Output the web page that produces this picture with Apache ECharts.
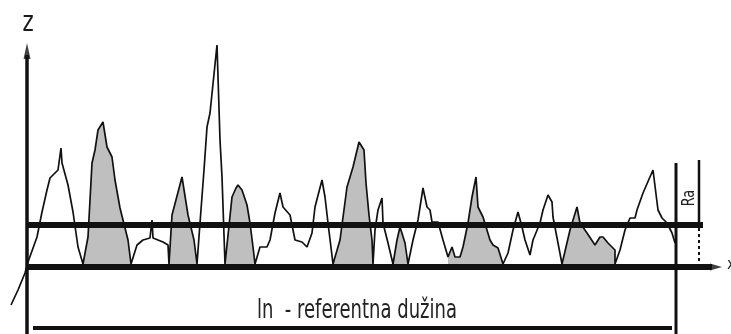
<!DOCTYPE html>
<html>
<head>
<meta charset="utf-8">
<script src="https://cdn.jsdelivr.net/npm/echarts@6/dist/echarts.min.js"></script>
<style>
  html, body { margin: 0; padding: 0; background: #fff; }
  #chart { width: 731px; height: 334px; }
</style>
</head>
<body>
<div id="chart"></div>
<script>
// profile: x position and height z above the base line
const profileX = [11, 18, 25, 28, 37, 42, 47, 50, 58, 61, 62, 68, 73, 78, 83,
  88, 92, 95, 98, 103, 107, 112, 115, 120, 128, 131,
  137, 143, 150, 152, 153, 163, 168, 169,
  172, 182, 188, 194, 197, 200, 204, 207, 210, 217, 220, 222, 225,
  232, 236, 238, 242, 247, 250, 253, 255,
  260, 267, 270, 275, 280, 283, 290, 295, 302, 307, 312, 315, 322, 325, 328, 333,
  340, 347, 353, 359, 364, 366, 369, 372, 373,
  375, 378, 382, 383, 388, 393, 397, 400, 405, 408, 413, 418, 423, 427, 430, 432, 438,
  443, 448, 452, 455, 460, 463, 468, 472, 476, 478, 483, 490, 493, 498, 503,
  508, 513, 518, 522, 525, 530, 533, 540, 543, 548, 552, 553, 558, 562,
  570, 577, 580, 587, 595, 600, 603, 608, 612, 615, 615,
  620, 625, 630, 635, 637, 643, 653, 658, 662, 667, 672, 675];
const profileZ = [-38, -23, -6, 5, 30, 55, 77, 89, 97, 119, 104, 82, 55, 20, 3,
  30, 104, 117, 137, 145, 120, 110, 87, 59, 27, 3,
  22, 27, 29, 47, 29, 25, 22, 3,
  52, 90, 52, 27, 3, 44, 97, 140, 154, 222, 127, 90, 3,
  70, 79, 82, 77, 62, 44, 20, 3,
  20, 20, 27, 54, 74, 60, 52, 27, 25, 20, 34, 60, 87, 70, 44, 3,
  27, 80, 100, 125, 117, 84, 52, 27, 3,
  37, 57, 69, 44, 24, 3, 27, 40, 24, 3, 27, 47, 79, 60, 57, 45, 45,
  27, 10, 20, 10, 10, 20, 44, 70, 90, 60, 50, 27, 22, 19, 3,
  14, 37, 55, 40, 27, 12, 27, 44, 57, 72, 65, 50, 24, 3,
  37, 60, 44, 34, 22, 30, 30, 24, 20, 17, 3,
  17, 37, 49, 49, 57, 74, 97, 57, 49, 44, 34, 24];

// stretches of the profile that are shaded grey
const shadeFrom = [83, 169, 225, 333, 393, 448, 562];
const shadeTo = [131, 197, 255, 373, 408, 503, 615];

// reference lines
const baseZ = 0;
const meanZ = 42;
const lengthZ = -61;
const raTopZ = 107;
const endTopZ = 104;

const profile = profileX.map((x, i) => [x, profileZ[i]]);

const shadeSeries = shadeFrom.map((from, k) => ({
  type: 'line',
  data: profile.filter(p => p[0] >= from && p[0] <= shadeTo[k]),
  symbol: 'none',
  lineStyle: { width: 0 },
  areaStyle: { color: '#bfbfbf', opacity: 1, origin: 0 },
  z: 1,
  silent: true
}));

const black = '#111';
const narrow = '"Liberation Sans Narrow", "DejaVu Sans Condensed", "Liberation Sans", sans-serif';

function seg(points, width, extra) {
  return Object.assign({
    type: 'line',
    data: points,
    symbol: 'none',
    lineStyle: { color: black, width: width },
    z: 5,
    silent: true
  }, extra || {});
}

const chart = echarts.init(document.getElementById('chart'));

chart.setOption({
  animation: false,
  grid: { left: 0, right: 0, top: 0, bottom: 0 },
  xAxis: { type: 'value', min: 0, max: 731, show: false },
  yAxis: { type: 'value', min: -67, max: 267, show: false },
  series: [
    ...shadeSeries,
    seg(profile, 1.7, { z: 4 }),
    // z axis with arrow
    seg([[27, -67], [27, 212]], 3.5),
    {
      type: 'scatter',
      data: [[27, 216]],
      symbol: 'triangle',
      symbolSize: [7, 16],
      itemStyle: { color: black },
      z: 5,
      silent: true
    },
    // base line with arrow
    seg([[27, baseZ], [712, baseZ]], 6),
    {
      type: 'scatter',
      data: [[716, baseZ]],
      symbol: 'triangle',
      symbolSize: [7, 12],
      symbolRotate: -90,
      itemStyle: { color: black },
      z: 5,
      silent: true
    },
    // mean line
    seg([[27, meanZ], [703, meanZ]], 6),
    // end of reference length
    seg([[676, -67], [676, endTopZ]], 3),
    // Ra marker
    seg([[699, meanZ], [699, raTopZ]], 2.5),
    seg([[699, baseZ], [699, meanZ]], 2, { lineStyle: { color: black, width: 2, type: [3, 3] } }),
    // reference length bar
    seg([[33, lengthZ], [672, lengthZ]], 4)
  ],
  graphic: [
    {
      type: 'text',
      x: 28, y: 24,
      scaleX: 0.85,
      style: { text: 'z', font: '28px ' + narrow, fill: '#1a1a1a', align: 'center', verticalAlign: 'middle' }
    },
    {
      type: 'text',
      x: 690, y: 198,
      rotation: Math.PI / 2,
      scaleX: 0.85,
      style: {
        text: 'Ra', font: '17px ' + narrow,
        fill: '#222', align: 'center', verticalAlign: 'middle'
      }
    },
    {
      type: 'text',
      x: 357, y: 311,
      scaleX: 0.77,
      style: {
        text: 'ln  - referentna dužina', font: '26px ' + narrow,
        fill: '#222', align: 'center', verticalAlign: 'middle'
      }
    },
    {
      type: 'text',
      left: 727, top: 257,
      style: { text: 'x', font: '16px ' + narrow, fill: '#222' }
    }
  ]
});
</script>
</body>
</html>
